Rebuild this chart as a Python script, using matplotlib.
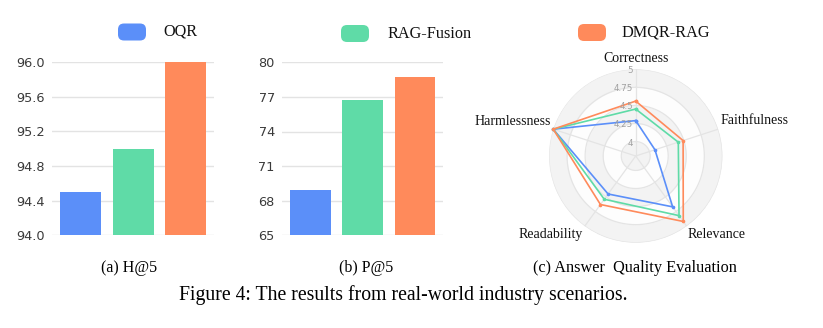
import numpy as np
import matplotlib
matplotlib.use("Agg")
import matplotlib.pyplot as plt
from matplotlib.patches import FancyBboxPatch
from matplotlib.transforms import IdentityTransform, offset_copy

# ---- data ----
methods = ["OQR", "RAG-Fusion", "DMQR-RAG"]
colors = ["#5B8FF9", "#5FDBA7", "#FF8A5B"]

h5_values = [94.5, 95.0, 96.0]
h5_ticks = [94.0, 94.4, 94.8, 95.2, 95.6, 96.0]

p5_values = [68.9, 76.7, 78.7]
p5_ticks = [65, 68, 71, 74, 77, 80]

radar_axes = ["Correctness", "Faithfulness", "Relevance", "Readability", "Harmlessness"]
radar_oqr = [4.29, 4.08, 4.67, 4.45, 5.0]
radar_fusion = [4.45, 4.42, 4.82, 4.54, 5.0]
radar_dmqr = [4.56, 4.49, 4.92, 4.63, 5.0]
radar_rings = [4.0, 4.25, 4.5, 4.75, 5.0]
radar_min = 3.8

W, H = 823, 328
fig = plt.figure(figsize=(W / 100, H / 100), dpi=100)
fig.patch.set_facecolor("white")

SERIF = ["Liberation Serif", "DejaVu Serif"]
SANS = ["DejaVu Sans"]


def frac_box(x0, y0, x1, y1):
    """Pixel box (top-left origin) -> figure-fraction rect."""
    return [x0 / W, 1 - y1 / H, (x1 - x0) / W, (y1 - y0) / H]


def bar_panel(rect, values, ticks, fmt):
    ax = fig.add_axes(rect)
    x = np.arange(len(values))
    ax.bar(x, values, width=0.78, color=colors, zorder=3)
    ax.set_xlim(-0.55, 2.53)
    ax.set_ylim(ticks[0], ticks[-1])
    ax.set_yticks(ticks)
    ax.set_yticklabels([fmt.format(t) for t in ticks], fontsize=9.3,
                       color="#3a3a3a", family=SANS)
    ax.set_xticks([])
    ax.tick_params(axis="y", length=0, pad=5)
    for s in ax.spines.values():
        s.set_visible(False)
    ax.grid(axis="y", color="#e3e3e3", linewidth=1.0, zorder=0)
    ax.set_axisbelow(True)
    return ax


bar_panel(frac_box(52, 62.3, 213.5, 235.3), h5_values, h5_ticks, "{:.1f}")
bar_panel(frac_box(281.7, 62.3, 442.7, 235.3), p5_values, p5_ticks, "{:d}")

# ---- radar ----
cx, cy, R = 635.7, 156.0, 86.7
rax = fig.add_axes(frac_box(cx - R, cy - R, cx + R, cy + R), projection="polar")
rax.set_theta_offset(np.pi / 2)
rax.set_theta_direction(-1)
rax.set_ylim(radar_min, 5.0)
rax.grid(False)
rax.set_xticks([])
rax.set_yticks([])
rax.spines["polar"].set_visible(False)
rax.patch.set_alpha(0)

full = np.linspace(0, 2 * np.pi, 361)
bounds = [radar_min] + radar_rings
for i in range(len(bounds) - 1):
    shade = "#f3f3f3" if (len(bounds) - 2 - i) % 2 == 0 else "#fdfdfd"
    rax.fill_between(full, bounds[i], bounds[i + 1], color=shade, lw=0, zorder=0)
for r in radar_rings:
    rax.plot(full, [r] * len(full), color="#e4e4e4", lw=0.9, zorder=1)

angles = np.arange(len(radar_axes)) * 2 * np.pi / len(radar_axes)
for a in angles:
    rax.plot([a, a], [radar_min, 5.0], color="#e4e4e4", lw=0.9, zorder=1)

for vals, c in zip([radar_oqr, radar_fusion, radar_dmqr], colors):
    t = np.append(angles, angles[0])
    v = np.append(vals, vals[0])
    rax.plot(t, v, color=c, lw=1.2, marker="o", ms=1.6, zorder=3, clip_on=False)

# radial labels, left of the vertical spoke
lab_tr = offset_copy(rax.transData, fig=fig, x=-2.5, y=-1.5, units="dots")
for r in radar_rings:
    rax.text(0, r, f"{r:g}", transform=lab_tr, ha="right", va="center",
             fontsize=6.3, color="#a0a0a0", family=SANS, zorder=4)

# axis names
name_offsets = {
    "Correctness": ((0, 11), "center"),
    "Faithfulness": ((2.6, 8.5), "left"),
    "Relevance": ((1, -8), "left"),
    "Readability": ((-2.3, -8.6), "right"),
    "Harmlessness": ((-2.5, 8.2), "right"),
}
for name, a in zip(radar_axes, angles):
    (dx, dy), ha = name_offsets[name]
    rax.annotate(name, xy=(a, 5.0), xytext=(dx * 0.72, dy * 0.72),
                 textcoords="offset points", ha=ha, va="center",
                 fontsize=10, family=SERIF, color="#111111",
                 annotation_clip=False)

# ---- legend ----
legend_items = [(118, 146, 23.5, 40.5, 163), (341, 369, 25, 42, 387), (578, 606, 24, 41, 621)]
for (x0, x1, y0, y1, tx), name, c in zip(legend_items, methods, colors):
    p = FancyBboxPatch((x0, H - y1), x1 - x0, y1 - y0,
                       boxstyle="round,pad=0,rounding_size=6",
                       transform=IdentityTransform(), facecolor=c,
                       edgecolor="none")
    fig.add_artist(p)
    fig.text(tx / W, 1 - ((y0 + y1) / 2) / H, name, ha="left", va="center",
             fontsize=11.7, family=SERIF, color="#111111")

# ---- captions ----
fig.text(129 / W, 1 - 268 / H, "(a) H@5", ha="center", va="center",
         fontsize=11.5, family=SERIF)
fig.text(366 / W, 1 - 268 / H, "(b) P@5", ha="center", va="center",
         fontsize=11.5, family=SERIF)
fig.text(634.5 / W, 1 - 268 / H, "(c) Answer  Quality Evaluation", ha="center",
         va="center", fontsize=11.7, family=SERIF)
fig.text(403 / W, 1 - 295 / H, "Figure 4: The results from real-world industry scenarios.",
         ha="center", va="center", fontsize=14.2, family=SERIF)

fig.savefig("out.png", dpi=100)
